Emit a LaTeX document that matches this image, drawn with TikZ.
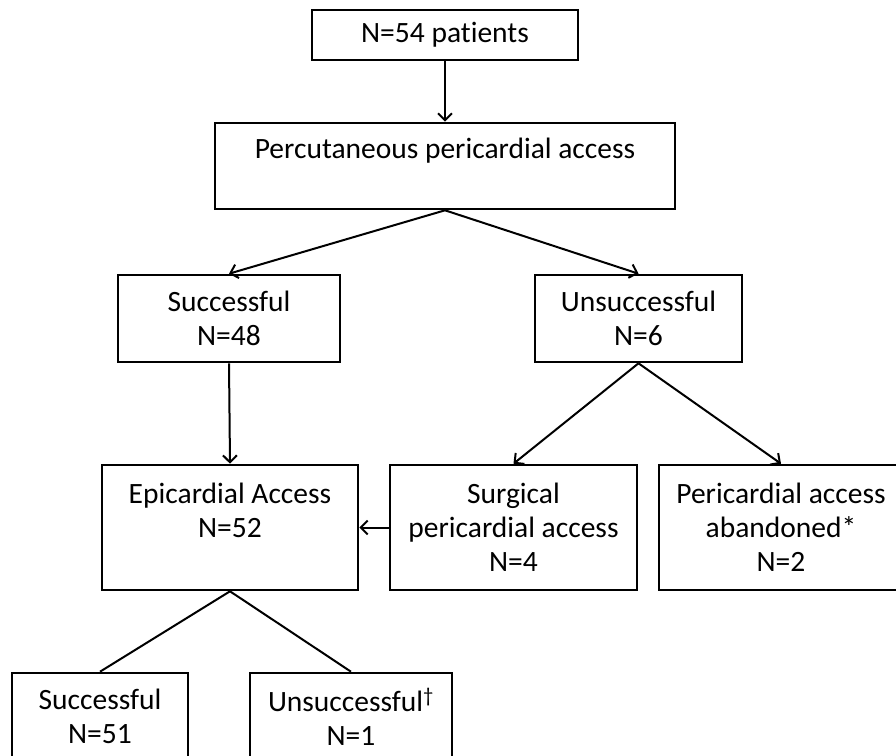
\documentclass[tikz,border=0pt]{standalone}
\usepackage{fontspec}
\setmainfont[Ligatures=NoCommon]{Carlito}
\usetikzlibrary{arrows.meta}

\tikzset{
	box/.style={draw, line width=2.6pt, align=center, inner sep=0pt,
		font=\fontsize{29.5}{34}\selectfont},
	link/.style={line width=2pt},
	arr/.style={link, -{Straight Barb[length=7pt,width=14pt,line width=2pt]}}
}

\begin{document}
\begin{tikzpicture}[x=1pt, y=-1pt]
	\useasboundingbox (0,0) rectangle (896,755);
	\clip (0,0) rectangle (896,755);
	% boxes
	\node[box, minimum width=266pt, minimum height=50pt] (pts) at (445,35) {N=54 patients};
	\node[box, minimum width=460pt, minimum height=86pt] (perc) at (445,166) {Percutaneous pericardial access\\[2pt] \mbox{}};
	\node[box, minimum width=222pt, minimum height=87pt] (succ) at (229,318.5) {Successful\\N=48};
	\node[box, minimum width=207pt, minimum height=87pt] (unsucc) at (638.5,318.5) {Unsuccessful\\N=6};
	\node[box, minimum width=256pt, minimum height=125pt] (epi) at (230,527.5) {Epicardial Access\\N=52\\ \mbox{}};
	\node[box, minimum width=247pt, minimum height=125pt] (surg) at (513.5,527.5) {Surgical\\pericardial access\\N=4};
	\node[box, minimum width=244pt, minimum height=125pt] (aband) at (781,527.5) {Pericardial access\\abandoned*\\N=2};
	\node[box, minimum width=176pt, minimum height=87pt] (succ2) at (100,716.5) {Successful\\N=51};
	\node[box, minimum width=202pt, minimum height=87pt] (unsucc2) at (351,716.5) {Unsuccessful\textsuperscript{†}\\N=1};
	% arrows
	\draw[arr] (pts.south) -- (perc.north);
	\draw[arr] (perc.south) -- (succ.north);
	\draw[arr] (perc.south) -- (unsucc.north);
	\draw[arr] (succ.south) -- (epi.north);
	\draw[arr] (unsucc.south) -- (surg.north);
	\draw[arr] (unsucc.south) -- (aband.north);
	\draw[arr] (surg.west) -- (epi.east);
	% outcome
	\draw[link] (epi.south) -- (succ2.north);
	\draw[link] (epi.south) -- (unsucc2.north);
\end{tikzpicture}
\end{document}
